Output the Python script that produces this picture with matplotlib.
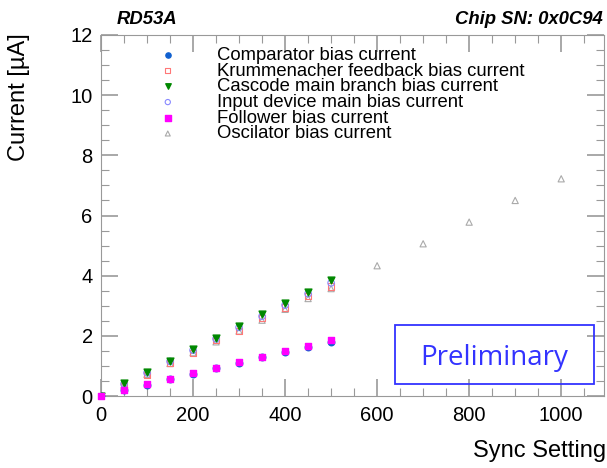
import matplotlib
matplotlib.use("Agg")
import matplotlib.pyplot as plt
from matplotlib.ticker import MultipleLocator

plt.rcParams['font.family'] = ['Liberation Sans', 'DejaVu Sans']

x_bias = [0, 50, 100, 150, 200, 250, 300, 350, 400, 450, 500]
comparator = [0.0, 0.19, 0.37, 0.56, 0.74, 0.92, 1.10, 1.28, 1.46, 1.63, 1.80]
krummenacher = [0.0, 0.36, 0.71, 1.11, 1.44, 1.86, 2.17, 2.59, 2.94, 3.33, 3.64]
cascode = [0.0, 0.42, 0.80, 1.18, 1.56, 1.94, 2.33, 2.71, 3.09, 3.47, 3.84]
input_dev = [0.0, 0.40, 0.77, 1.15, 1.52, 1.90, 2.28, 2.65, 3.02, 3.40, 3.76]
follower = [0.0, 0.21, 0.39, 0.58, 0.76, 0.94, 1.13, 1.31, 1.49, 1.67, 1.86]
x_osc = [0, 50, 100, 150, 200, 250, 300, 350, 400, 450, 500, 600, 700, 800, 900, 1000]
oscillator = [0.0, 0.36, 0.72, 1.08, 1.44, 1.80, 2.16, 2.52, 2.88, 3.24, 3.57, 4.33, 5.06, 5.78, 6.50, 7.22]

labels = ["Comparator bias current", "Krummenacher feedback bias current",
          "Cascode main branch bias current", "Input device main bias current",
          "Follower bias current", "Oscilator bias current"]

fig = plt.figure(figsize=(6.07, 4.68), dpi=100)
ax = fig.add_axes([101/607, 1-396/468, (604-101)/607, (396-35)/468])

osc_h = ax.scatter(x_osc, oscillator, marker="^", s=20, facecolors="none", edgecolors="#aaaaaa", linewidths=0.8, zorder=3)
kr_h = ax.scatter(x_bias, krummenacher, marker="s", s=20, facecolors="none", edgecolors="#ff7777", linewidths=0.8, zorder=4)
in_h = ax.scatter(x_bias, input_dev, marker="o", s=22, facecolors="none", edgecolors="#8888ff", linewidths=0.8, zorder=5)
ca_h = ax.scatter(x_bias, cascode, marker="v", s=24, color="#008800", zorder=6)
co_h = ax.scatter(x_bias, comparator, marker="o", s=22, color="#1060d0", zorder=3)
fo_h = ax.scatter(x_bias, follower, marker="s", s=22, color="#ff00ff", zorder=7, clip_on=False)

ax.set_xlim(0, 1093)
ax.set_ylim(0, 12)
ax.xaxis.set_major_locator(MultipleLocator(200))
ax.xaxis.set_minor_locator(MultipleLocator(50))
ax.yaxis.set_major_locator(MultipleLocator(2))
ax.yaxis.set_minor_locator(MultipleLocator(0.5))
ax.tick_params(which="both", direction="in", top=True, right=True, color="#999999", labelsize=14.5)
ax.tick_params(which="major", length=12, width=1.2)
ax.tick_params(which="minor", length=6, width=0.8)
ax.tick_params(axis="x", pad=7)
ax.tick_params(axis="y", pad=6)
for s in ax.spines.values():
    s.set_color("#999999")

leg = ax.legend([co_h, kr_h, ca_h, in_h, fo_h, osc_h], labels, loc="upper left",
                bbox_to_anchor=(0.074, 0.998), frameon=False, fontsize=13.3,
                labelspacing=-0.07, handletextpad=1.67, borderpad=0.1, markerscale=0.8)

fig.text(8/607, 1-33/468, "Current [µA]", rotation=90, ha="left", va="top", fontsize=17)
fig.text(606/607, 1-457/468, "Sync Setting", ha="right", va="baseline", fontsize=17)
fig.text(117/607, 1-19.5/468, "RD53A", ha="left", va="center", fontsize=13.3, fontweight="bold", style="italic")
fig.text(603/607, 1-19.5/468, "Chip SN: 0x0C94", ha="right", va="center", fontsize=13.3, fontweight="bold", style="italic")

box = plt.Rectangle((395/607, 1-384/468), (594-395)/607, (384-325)/468, transform=fig.transFigure,
                    fill=False, edgecolor="#3333ff", linewidth=1.3, zorder=10)
fig.add_artist(box)
fig.text((395+594)/2/607, 1-358/468, "Preliminary", ha="center", va="center", fontsize=20,
         color="#3333ff", family="Open Sans")

fig.savefig("out.png", dpi=100)
